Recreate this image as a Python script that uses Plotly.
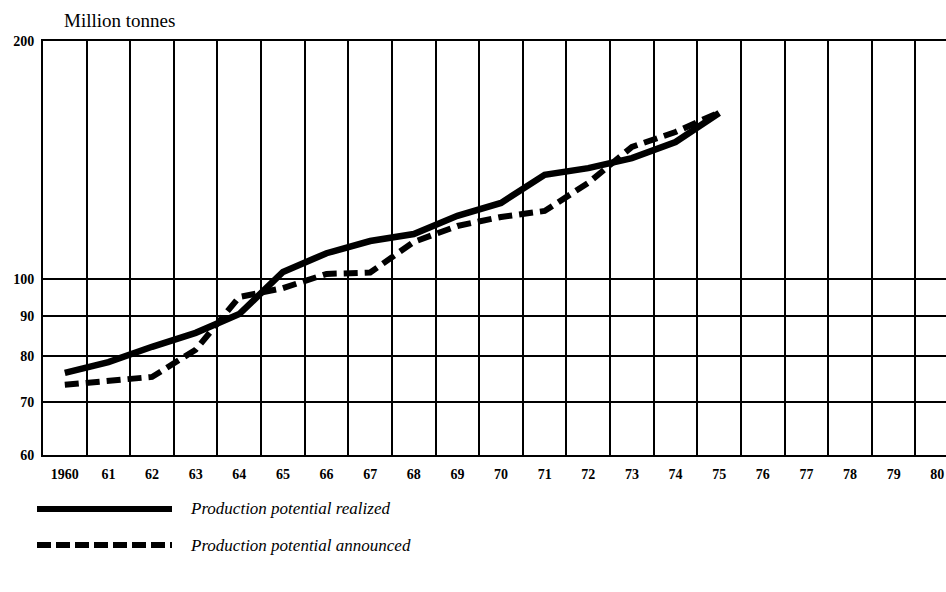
import plotly.graph_objects as go

years = list(range(1960, 1976))
realized = [76.2, 78.6, 82.2, 85.6, 90.4, 102.2, 107.9, 111.8, 114.1, 120.3,
            124.9, 135.5, 138.2, 142.3, 149.1, 162.2]
announced = [73.6, 74.6, 75.3, 81.5, 95.0, 97.5, 101.6, 102.0, 111.5, 116.8,
             119.9, 122.0, 132.4, 147.0, 153.5, 162.5]

x_tick_vals = list(range(1960, 1981))
x_tick_text = ["1960"] + [str(y % 100) for y in range(1961, 1981)]
y_tick_vals = [60, 70, 80, 90, 100, 200]
y_tick_text = ["60", "70", "80", "90", "100", "200"]

series_names = ["Production potential realized", "Production potential announced"]

fig = go.Figure()
fig.add_trace(go.Scatter(x=years, y=realized, mode="lines", name=series_names[0],
                         line=dict(color="black", width=6.5), showlegend=False))
fig.add_trace(go.Scatter(x=years, y=announced, mode="lines", name=series_names[1],
                         line=dict(color="black", width=6, dash="14px,7px"), showlegend=False))

tickfont = dict(family="Liberation Serif", size=14, color="black", weight="bold")

fig.update_layout(
    width=946, height=592,
    margin=dict(l=43, r=0, t=41, b=137, autoexpand=False),
    paper_bgcolor="white", plot_bgcolor="white",
    showlegend=False,
    xaxis=dict(
        range=[1959.5, 1980.2], automargin=False,
        tickmode="array", tickvals=x_tick_vals, ticktext=x_tick_text,
        showgrid=False, zeroline=False,
        showline=True, linecolor="black", linewidth=2, mirror=True,
        ticks="", ticklabelstandoff=5,
        tickfont=tickfont,
        minor=dict(tick0=1960.5, dtick=1, showgrid=True, gridcolor="black", gridwidth=2, ticks=""),
    ),
    yaxis=dict(
        type="log", automargin=False,
        range=[1.7782, 2.30103],
        tickmode="array", tickvals=y_tick_vals, ticktext=y_tick_text,
        showgrid=True, gridcolor="black", gridwidth=2, zeroline=False,
        showline=True, linecolor="black", linewidth=2,
        ticks="", ticklabelstandoff=4,
        tickfont=tickfont,
    ),
)

fig.add_annotation(text="Million tonnes", xref="paper", yref="paper", x=(62 - 43) / 903, y=1.0,
                   yshift=21, xanchor="left", yanchor="middle", showarrow=False,
                   font=dict(family="Liberation Serif", size=19, color="black"))

# legend keys
legend_y = [509, 545]
dashes = ["solid", "14px,5px"]
for i, (name, yy, d) in enumerate(zip(series_names, legend_y, dashes)):
    yp = (592 - 137 - yy) / (592 - 41 - 137)
    fig.add_shape(type="line", xref="paper", yref="paper",
                  x0=(37 - 43) / 903, x1=(172 - 43) / 903, y0=yp, y1=yp,
                  line=dict(color="black", width=6, dash=d))
    fig.add_annotation(text="<i>" + name + "</i>", xref="paper", yref="paper",
                       x=(188 - 43) / 903, y=yp, xanchor="left", yanchor="middle",
                       showarrow=False,
                       font=dict(family="Liberation Serif", size=17, color="black"))

fig.write_html("out.html", config={"displayModeBar": False},
               post_script="document.body.style.margin='0';document.body.style.overflow='hidden';")
